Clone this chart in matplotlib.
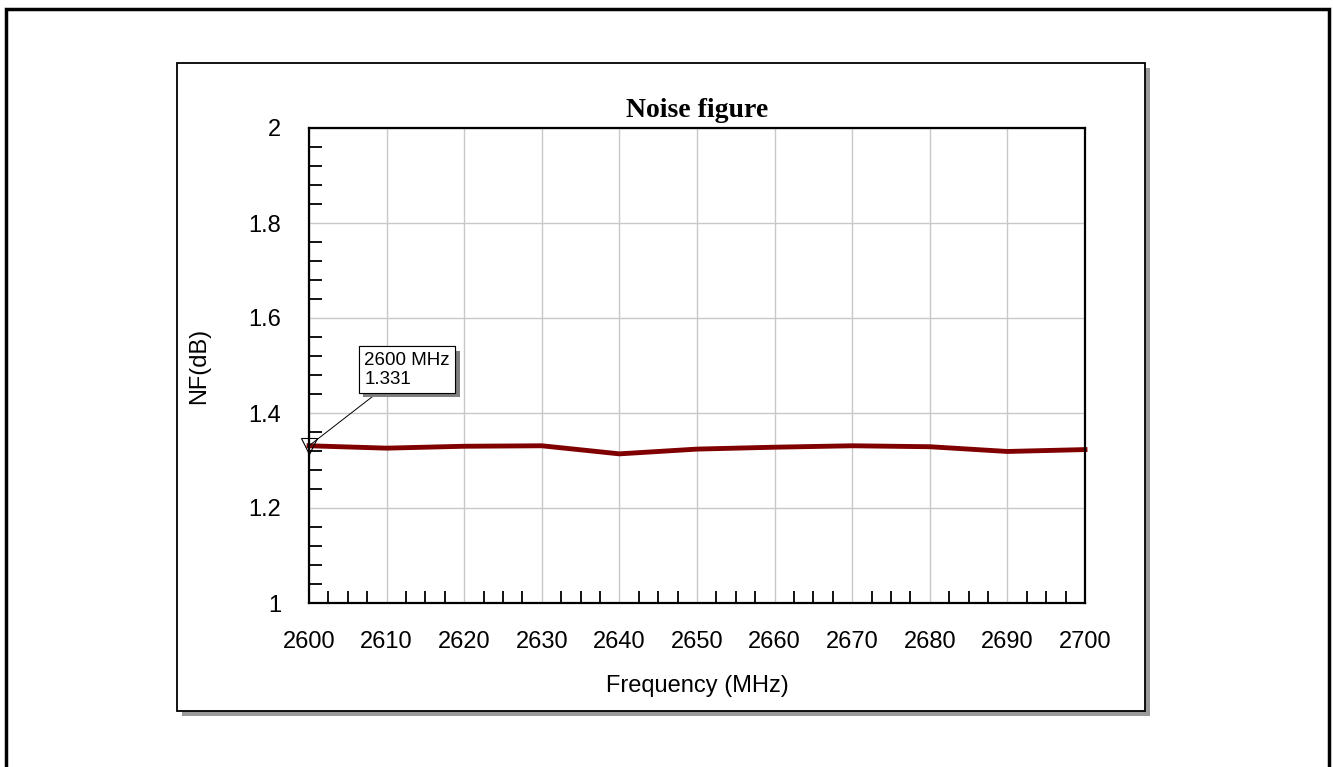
import matplotlib
matplotlib.use("Agg")
import matplotlib.pyplot as plt
from matplotlib.patches import Rectangle
from matplotlib.ticker import FixedLocator
import matplotlib.patheffects as pe
import numpy as np

plt.rcParams['font.family'] = ['Liberation Sans', 'DejaVu Sans']

# Noise figure sweep
freq_mhz = [2600, 2610, 2620, 2630, 2640, 2650, 2660, 2670, 2680, 2690, 2700]
nf_db = [1.331, 1.326, 1.330, 1.331, 1.314, 1.324, 1.328, 1.331, 1.329, 1.319, 1.323]
x_ticks = [2600, 2610, 2620, 2630, 2640, 2650, 2660, 2670, 2680, 2690, 2700]
y_ticks = [1, 1.2, 1.4, 1.6, 1.8, 2]
y_tick_labels = ["1", "1.2", "1.4", "1.6", "1.8", "2"]
marker_index = 0

W, H = 1333, 767
fig = plt.figure(figsize=(W / 100, H / 100), dpi=100)

def fx(px):
    return px / W

def fy(py):
    return 1 - py / H

# Outer page border
fig.patches.append(Rectangle((fx(6), fy(790)), fx(1329) - fx(6), fy(9) - fy(790),
                             transform=fig.transFigure, fill=False, lw=2.5,
                             edgecolor='black', zorder=-3))
# Chart panel with drop shadow
fig.patches.append(Rectangle((fx(182), fy(716)), fx(1150) - fx(182), fy(68) - fy(716),
                             transform=fig.transFigure, facecolor='#9a9a9a',
                             edgecolor='none', zorder=-2))
fig.patches.append(Rectangle((fx(177), fy(711)), fx(1145) - fx(177), fy(63) - fy(711),
                             transform=fig.transFigure, facecolor='white',
                             edgecolor='black', lw=1.3, zorder=-1))

ax = fig.add_axes([fx(309), fy(603), fx(1085) - fx(309), fy(128) - fy(603)])
ax.set_zorder(2)
ax.set_facecolor('none')

ax.plot(freq_mhz, nf_db, color='#800000', lw=3.5, solid_joinstyle='miter',
        clip_on=False, zorder=3)

ax.set_xlim(x_ticks[0], x_ticks[-1])
ax.set_ylim(y_ticks[0], y_ticks[-1])
ax.set_xticks(x_ticks)
ax.set_xticklabels([str(v) for v in x_ticks])
ax.set_yticks(y_ticks)
ax.set_yticklabels(y_tick_labels)

x_minor = [v for v in np.arange(x_ticks[0], x_ticks[-1], 2.5) if v % 10 != 0]
y_minor = [round(v, 2) for v in np.arange(1.0, 2.0, 0.04)
           if abs(round(v, 2) * 5 - round(round(v, 2) * 5)) > 1e-6]
ax.xaxis.set_minor_locator(FixedLocator(x_minor))
ax.yaxis.set_minor_locator(FixedLocator(y_minor))

ax.grid(True, which='major', color='#c8c8c8', lw=1.0, zorder=1)
ax.tick_params(which='major', length=0, pad=20, labelsize=17, colors='black')
ax.tick_params(which='minor', direction='in', length=9, width=1.3, color='black')
for s in ax.spines.values():
    s.set_linewidth(1.6)
    s.set_color('black')
    s.set_zorder(4)

ax.set_xlabel('Frequency (MHz)', fontsize=17)
ax.set_ylabel('NF(dB)', fontsize=17)
ax.xaxis.set_label_coords(0.5, -0.152)
ax.yaxis.set_label_coords(-0.1276, 0.5)

ax.text(0.5, 1.037, 'Noise figure', transform=ax.transAxes, ha='center', va='center',
        fontsize=20, fontweight='bold', family=['Liberation Serif', 'DejaVu Serif'])

# Marker readout
mx, my = freq_mhz[marker_index], nf_db[marker_index]
ax.plot([mx], [my], marker='v', markersize=11, markerfacecolor='none',
        markeredgecolor='black', markeredgewidth=0.8, clip_on=False, zorder=5)
ann = ax.annotate(f"{mx} MHz\n{my:.3f}", xy=(mx, my), xytext=(98, 76),
                  textcoords='offset pixels', ha='center', va='center',
                  multialignment='left', fontsize=13.5, linespacing=1.12, zorder=6,
                  bbox=dict(boxstyle='square,pad=0.3', facecolor='white',
                            edgecolor='black', lw=0.8),
                  arrowprops=dict(arrowstyle='-', color='black', lw=0.7,
                                  shrinkA=0, shrinkB=0))
ann.get_bbox_patch().set_path_effects([
    pe.withSimplePatchShadow(offset=(3, -3), shadow_rgbFace='#808080', alpha=1.0),
    pe.Normal()])

fig.savefig('out.png', dpi=100)
